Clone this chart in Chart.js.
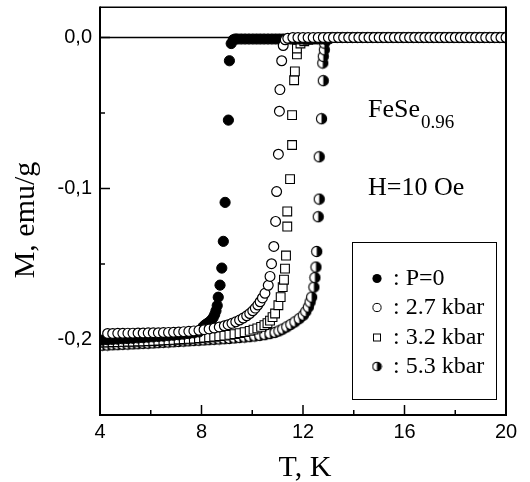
<!DOCTYPE html>
<html>
<head>
<meta charset="utf-8">
<script src="https://cdn.jsdelivr.net/npm/chart.js@4.4.0/dist/chart.umd.min.js"></script>
<style>
  html, body { margin: 0; padding: 0; background: #fff; }
</style>
</head>
<body>
<canvas id="c" width="530" height="482"></canvas>
<script>
// --- data: [T (K), M (emu/g)] ---
const P0 = [
  [3.9,-0.2006],[4.1,-0.2004],[4.3,-0.2002],[4.5,-0.2000],[4.7,-0.1998],[4.9,-0.1996],[5.1,-0.1994],[5.3,-0.1992],
  [5.5,-0.1990],[5.7,-0.1988],[5.9,-0.1985],[6.1,-0.1983],[6.3,-0.1980],[6.5,-0.1978],[6.7,-0.1975],[6.9,-0.1972],
  [7.1,-0.1969],[7.3,-0.1965],[7.5,-0.1961],[7.7,-0.1956],[7.9,-0.1950],
  [8.06,-0.1916],[8.13,-0.1905],[8.2,-0.1897],[8.27,-0.1889],[8.34,-0.1880],[8.4,-0.1870],[8.46,-0.1855],
  [8.52,-0.1835],[8.57,-0.1810],[8.62,-0.1775],[8.66,-0.1720],[8.73,-0.1640],[8.8,-0.1527],[8.86,-0.1350],
  [8.93,-0.1092],[9.06,-0.0547],[9.1,-0.0154],[9.17,-0.0040],[9.25,-0.0015],[9.33,-0.0010],
  [9.42,-0.001],[9.57,-0.001],[9.72,-0.001],[9.87,-0.001],[10.02,-0.001],[10.17,-0.001],[10.32,-0.001],
  [10.47,-0.001],[10.62,-0.001],[10.77,-0.001],[10.92,-0.001],[11.07,-0.001],[11.22,-0.001],[11.37,-0.001],
  [11.52,-0.001],[11.67,-0.001],[11.82,-0.001],[11.97,-0.001],[12.12,-0.001],[12.27,-0.001],[12.42,-0.001],
  [12.57,-0.001],[12.72,-0.001],[12.87,-0.001],[13.02,-0.001]
];

const P27 = [
  [4.3,-0.1960],[4.5,-0.1960],[4.7,-0.1959],[4.9,-0.1959],[5.1,-0.1958],[5.3,-0.1958],[5.5,-0.1957],[5.7,-0.1957],
  [5.9,-0.1956],[6.1,-0.1955],[6.3,-0.1955],[6.5,-0.1954],[6.7,-0.1953],[6.9,-0.1952],[7.1,-0.1950],[7.3,-0.1948],
  [7.5,-0.1946],[7.7,-0.1943],[7.9,-0.1939],[8.1,-0.1935],[8.3,-0.1930],[8.5,-0.1924],[8.7,-0.1917],[8.9,-0.1909],
  [9.05,-0.1902],[9.2,-0.1893],[9.35,-0.1883],[9.5,-0.1871],[9.64,-0.1858],[9.78,-0.1843],[9.9,-0.1828],
  [10.02,-0.1810],[10.12,-0.1792],[10.22,-0.1772],[10.31,-0.1750],[10.4,-0.1725],[10.5,-0.1694],
  [10.63,-0.1641],[10.70,-0.1582],[10.76,-0.1498],[10.85,-0.1384],[10.92,-0.1218],[10.96,-0.1020],
  [11.03,-0.0773],[11.07,-0.0488],[11.09,-0.0345],[11.16,-0.0154],[11.22,-0.0053],[11.3,-0.0015],[11.4,-0.0005],
  [11.6,0],[11.8,0],[12.0,0],[12.2,0],[12.4,0],[12.6,0],[12.8,0],[13.0,0],[13.2,0],[13.4,0],
  [13.6,0],[13.8,0],[14.0,0],[14.2,0],[14.4,0],[14.6,0],[14.8,0],[15.0,0],[15.2,0],[15.4,0],
  [15.6,0],[15.8,0],[16.0,0],[16.2,0],[16.4,0],[16.6,0],[16.8,0],[17.0,0],[17.2,0],[17.4,0],
  [17.6,0],[17.8,0],[18.0,0],[18.2,0],[18.4,0],[18.6,0],[18.8,0],[19.0,0],[19.2,0],[19.4,0],
  [19.6,0],[19.8,0],[20.0,0]
];

const P32 = [
  [3.9,-0.2021],[4.1,-0.2020],[4.3,-0.2019],[4.5,-0.2018],[4.7,-0.2017],[4.9,-0.2016],[5.1,-0.2015],[5.3,-0.2014],
  [5.5,-0.2013],[5.7,-0.2012],[5.9,-0.2011],[6.1,-0.2010],[6.3,-0.2008],[6.5,-0.2006],[6.7,-0.2004],[6.9,-0.2002],
  [7.1,-0.2000],[7.3,-0.1998],[7.5,-0.1996],[7.7,-0.1994],[7.9,-0.1991],[8.1,-0.1988],[8.3,-0.1985],[8.5,-0.1982],
  [8.7,-0.1978],[8.9,-0.1974],[9.1,-0.1969],[9.3,-0.1964],[9.5,-0.1958],[9.7,-0.1951],[9.9,-0.1943],
  [10.05,-0.1935],[10.2,-0.1926],[10.35,-0.1916],[10.48,-0.1905],[10.6,-0.1892],[10.7,-0.1875],[10.8,-0.1852],
  [10.9,-0.1828],[11.03,-0.1773],[11.12,-0.1719],[11.20,-0.1653],[11.25,-0.1604],[11.29,-0.1531],[11.33,-0.1444],
  [11.38,-0.1252],[11.38,-0.1152],[11.49,-0.0938],[11.57,-0.0712],[11.57,-0.0514],[11.65,-0.0283],[11.68,-0.0224],
  [11.76,-0.0112],[11.76,-0.0073],[11.9,-0.0040],[12.05,-0.0025],[12.2,-0.0015],[12.35,-0.0010],[12.5,-0.0005],
  [12.7,0],[12.9,0],[13.1,0],[13.3,0],[13.5,0],[13.7,0],[13.9,0],[14.1,0],[14.3,0],[14.5,0],
  [14.7,0],[14.9,0],[15.1,0],[15.3,0],[15.5,0],[15.7,0],[15.9,0],[16.1,0],[16.3,0],[16.5,0],
  [16.7,0],[16.9,0],[17.1,0],[17.3,0],[17.5,0],[17.7,0],[17.9,0],[18.1,0],[18.3,0],[18.5,0],
  [18.7,0],[18.9,0],[19.1,0],[19.3,0],[19.5,0],[19.7,0],[19.9,0]
];

const P53 = [
  [3.9,-0.2040],[4.1,-0.2038],[4.3,-0.2037],[4.5,-0.2035],[4.7,-0.2034],[4.9,-0.2032],[5.1,-0.2031],[5.3,-0.2029],
  [5.5,-0.2028],[5.7,-0.2026],[5.9,-0.2025],[6.1,-0.2023],[6.3,-0.2021],[6.5,-0.2019],[6.7,-0.2017],[6.9,-0.2015],
  [7.1,-0.2013],[7.3,-0.2011],[7.5,-0.2009],[7.7,-0.2007],[7.9,-0.2005],[8.1,-0.2003],[8.3,-0.2001],[8.5,-0.1999],
  [8.7,-0.1997],[8.9,-0.1995],[9.1,-0.1993],[9.3,-0.1990],[9.5,-0.1987],[9.7,-0.1984],[9.9,-0.1981],[10.1,-0.1977],
  [10.3,-0.1973],[10.5,-0.1968],[10.7,-0.1961],[10.9,-0.1953],[11.05,-0.1943],[11.2,-0.1931],[11.36,-0.1916],
  [11.52,-0.1900],[11.68,-0.1883],[11.85,-0.1862],[12.01,-0.1839],[12.11,-0.1815],[12.21,-0.1785],[12.28,-0.1752],
  [12.34,-0.1719],[12.43,-0.1653],[12.47,-0.1590],[12.51,-0.1520],[12.54,-0.1417],[12.60,-0.1187],[12.64,-0.1070],
  [12.64,-0.0790],[12.73,-0.0538],[12.80,-0.0286],[12.78,-0.0169],[12.80,-0.0125],[12.84,-0.0081],[12.84,-0.0037],
  [12.92,-0.0012],[13.02,-0.0004],
  [13.15,0],[13.35,0],[13.55,0],[13.75,0],[13.95,0],[14.15,0],[14.35,0],[14.55,0],[14.75,0],[14.95,0],
  [15.15,0],[15.35,0],[15.55,0],[15.75,0],[15.95,0],[16.15,0],[16.35,0],[16.55,0],[16.75,0],[16.95,0],
  [17.15,0],[17.35,0],[17.55,0],[17.75,0],[17.95,0],[18.15,0],[18.35,0],[18.55,0],[18.75,0],[18.95,0],
  [19.15,0],[19.35,0],[19.55,0],[19.75,0],[19.95,0]
];

const LABELS = ['P=0', '2.7 kbar', '3.2 kbar', '5.3 kbar'];
const X_TICK_LABELS = [4, 8, 12, 16, 20];
const Y_TICK_LABELS = [0, -0.1, -0.2];

const SERIF = '"Liberation Serif", "Times New Roman", serif';
const SANS = '"Liberation Sans", Arial, sans-serif';

// half-filled circle marker (right half black)
function halfDot(r) {
  const s = Math.ceil(r * 2 + 2);
  const cv = document.createElement('canvas');
  cv.width = s; cv.height = s;
  const g = cv.getContext('2d');
  const c = s / 2;
  g.fillStyle = '#fff';
  g.beginPath(); g.arc(c, c, r, 0, Math.PI * 2); g.fill();
  g.fillStyle = '#000';
  g.beginPath(); g.arc(c, c, r, -Math.PI / 2, Math.PI / 2); g.closePath(); g.fill();
  g.lineWidth = 1.1; g.strokeStyle = '#000';
  g.beginPath(); g.arc(c, c, r, 0, Math.PI * 2); g.stroke();
  return cv;
}
const HALF = halfDot(5.1);
const HALF_SMALL = halfDot(4.3);

const toXY = arr => arr.map(p => ({ x: p[0], y: p[1] }));

// zero line under the points
const zeroLine = {
  id: 'zeroLine',
  beforeDatasetsDraw(chart) {
    const { ctx, chartArea: a, scales: { y } } = chart;
    const y0 = y.getPixelForValue(0);
    ctx.save();
    ctx.strokeStyle = '#000';
    ctx.lineWidth = 1.3;
    ctx.beginPath(); ctx.moveTo(a.left, y0); ctx.lineTo(a.right, y0); ctx.stroke();
    ctx.restore();
  }
};

// box + inward ticks
const frame = {
  id: 'frame',
  afterDatasetsDraw(chart) {
    const { ctx, chartArea: a, scales: { x, y } } = chart;
    const line = (x1, y1, x2, y2) => { ctx.beginPath(); ctx.moveTo(x1, y1); ctx.lineTo(x2, y2); ctx.stroke(); };
    ctx.save();
    ctx.strokeStyle = '#000';
    ctx.lineWidth = 1.5;
    line(a.left, a.top, a.right, a.top);
    ctx.lineWidth = 2;
    line(a.left, a.top - 0.75, a.left, a.bottom + 1);
    line(a.left - 1, a.bottom, a.right + 1, a.bottom);
    line(a.right, a.top - 0.75, a.right, a.bottom + 1);
    ctx.lineWidth = 1.5;
    x.ticks.forEach(t => {
      const px = x.getPixelForValue(t.value);
      const len = X_TICK_LABELS.includes(t.value) ? 10 : 5;
      line(px, a.bottom, px, a.bottom - len);
    });
    y.ticks.forEach(t => {
      const k = Math.round(t.value / 0.05);
      if (Math.abs(t.value - k * 0.05) > 1e-6) return;
      const py = y.getPixelForValue(t.value);
      const len = k % 2 === 0 ? 10 : 5;
      line(a.left, py, a.left + len, py);
    });
    ctx.restore();
  }
};

// texts: legend box, annotation, axis titles
const texts = {
  id: 'texts',
  afterDraw(chart) {
    const { ctx } = chart;
    ctx.save();
    ctx.fillStyle = '#000';
    ctx.strokeStyle = '#000';

    // legend
    ctx.lineWidth = 1;
    ctx.strokeRect(352.5, 242.5, 144, 157);
    const rows = [285, 314, 344, 373];
    ctx.font = '24px ' + SERIF;
    ctx.textAlign = 'left';
    ctx.textBaseline = 'alphabetic';
    rows.forEach((by, i) => {
      const mx = 377, my = by - 6.5;
      ctx.lineWidth = 1;
      if (i === 0) {
        ctx.beginPath(); ctx.arc(mx, my, 4.6, 0, Math.PI * 2); ctx.fill();
      } else if (i === 1) {
        ctx.fillStyle = '#fff';
        ctx.beginPath(); ctx.arc(mx, my, 4.1, 0, Math.PI * 2); ctx.fill(); ctx.stroke();
        ctx.fillStyle = '#000';
      } else if (i === 2) {
        ctx.strokeRect(mx - 3.5, my - 3.5, 7, 7);
      } else {
        ctx.drawImage(HALF_SMALL, mx - HALF_SMALL.width / 2, my - HALF_SMALL.height / 2);
      }
      ctx.fillText(': ' + LABELS[i], 393, by);
    });

    // annotation
    ctx.font = '26px ' + SERIF;
    ctx.fillText('FeSe', 368, 117);
    const w = ctx.measureText('FeSe').width;
    ctx.font = '19px ' + SERIF;
    ctx.fillText('0.96', 368 + w + 1, 128);
    ctx.font = '26px ' + SERIF;
    ctx.fillText('H=10 Oe', 368, 195);

    // axis titles
    ctx.font = '30px ' + SERIF;
    ctx.textAlign = 'center';
    ctx.fillText('T, K', 305, 476);
    ctx.translate(34, 220);
    ctx.rotate(-Math.PI / 2);
    ctx.fillText('M, emu/g', 0, 0);
    ctx.restore();
  }
};

const ds = (label, data, extra) => Object.assign({
  label: label,
  data: toXY(data),
  showLine: false,
  clip: 0,
  borderColor: '#000',
  borderWidth: 1
}, extra);

// order: open circles on top, then P=0, squares, half-filled at the bottom
new Chart(document.getElementById('c'), {
  type: 'scatter',
  data: {
    datasets: [
      ds(LABELS[0], P0, { pointStyle: 'circle', pointRadius: 5.1, backgroundColor: '#000', order: 2 }),
      ds(LABELS[1], P27, { pointStyle: 'circle', pointRadius: 4.9, backgroundColor: '#fff', borderWidth: 1.2, order: 1 }),
      ds(LABELS[2], P32, { pointStyle: 'rect', pointRadius: 6.2, backgroundColor: '#fff', borderWidth: 1.1, order: 3 }),
      ds(LABELS[3], P53, { pointStyle: HALF, pointRadius: 5.1, backgroundColor: '#fff', order: 4 })
    ]
  },
  options: {
    responsive: false,
    devicePixelRatio: 1,
    animation: false,
    events: [],
    layout: { padding: { top: 6, right: 24, left: 0, bottom: 0 } },
    plugins: { legend: { display: false }, tooltip: { enabled: false } },
    scales: {
      x: {
        type: 'linear',
        min: 4, max: 20,
        grid: { display: false, drawTicks: false },
        border: { display: false },
        ticks: {
          stepSize: 2,
          autoSkip: false,
          maxRotation: 0,
          padding: 5,
          color: '#000',
          font: { family: SANS, size: 20 },
          callback: v => X_TICK_LABELS.includes(v) ? String(v) : ''
        },
        afterFit: s => { s.height = 67; s.paddingLeft = 0; s.paddingRight = 0; }
      },
      y: {
        type: 'linear',
        min: -0.25, max: 0.02,
        grid: { display: false, drawTicks: false },
        border: { display: false },
        ticks: {
          stepSize: 0.05,
          autoSkip: false,
          padding: 8,
          color: '#000',
          font: { family: SANS, size: 20 },
          callback: v => {
            const hit = Y_TICK_LABELS.find(t => Math.abs(t - v) < 1e-6);
            return hit === undefined ? '' : hit.toFixed(1).replace('.', ',');
          }
        },
        afterFit: s => { s.width = 100; s.paddingTop = 0; s.paddingBottom = 0; }
      }
    }
  },
  plugins: [zeroLine, frame, texts]
});
</script>
</body>
</html>
